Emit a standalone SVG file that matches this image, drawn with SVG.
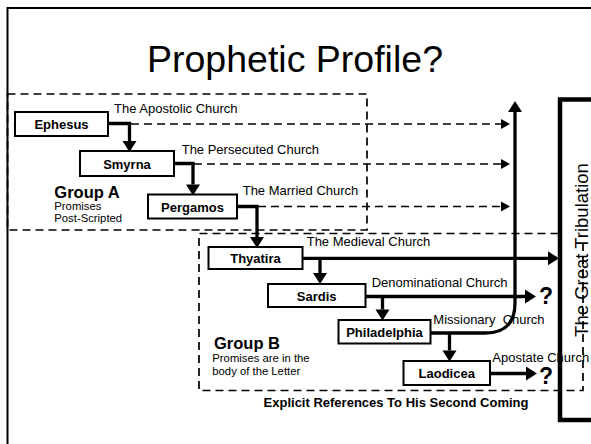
<svg xmlns="http://www.w3.org/2000/svg" width="591" height="444" viewBox="0 0 591 444">
<style>
  .frame{fill:none;stroke:#000;stroke-width:2}
  .grp{fill:none;stroke:#000;stroke-width:1.7;stroke-dasharray:8 5}
  .node rect{fill:#fff;stroke:#000;stroke-width:2}
  .node text{font-family:"Liberation Sans",Arial,sans-serif;font-weight:bold;font-size:13px;text-anchor:middle;fill:#000}
  .lbl{font-family:"Liberation Sans",Arial,sans-serif;font-size:13px;fill:#000}
  .small{font-family:"Liberation Sans",Arial,sans-serif;font-size:11.3px;fill:#000}
  .gtitle{font-family:"Liberation Sans",Arial,sans-serif;font-size:16.5px;font-weight:bold;fill:#000}
  .solid{fill:none;stroke:#000;stroke-width:3.3}
  .dash{fill:none;stroke:#000;stroke-width:1.7;stroke-dasharray:8 5}
  .q{font-family:"Liberation Sans",Arial,sans-serif;font-size:23px;font-weight:bold;fill:#000}
</style>
<defs>
  <marker id="big" markerUnits="userSpaceOnUse" markerWidth="11" markerHeight="14" refX="0" refY="7" orient="auto" overflow="visible">
    <path d="M0,0 L11,7 L0,14 z" fill="#000"/>
  </marker>
  <marker id="sm" markerUnits="userSpaceOnUse" markerWidth="9" markerHeight="10" refX="0" refY="5" orient="auto" overflow="visible">
    <path d="M0,0 L9,5 L0,10 z" fill="#000"/>
  </marker>
</defs>
<rect width="591" height="444" fill="#fff"/>
<path class="frame" d="M7.5,450 V8 H600"/>
<text x="295" y="72" font-family="'Liberation Sans',Arial,sans-serif" font-size="37.5" text-anchor="middle">Prophetic Profile?</text>

<g id="groupA">
  <rect class="grp" x="7.5" y="94" width="359.5" height="136"/>
  <text class="gtitle" x="54.3" y="198.3">Group A</text>
  <text class="small" x="54.3" y="210">Promises</text>
  <text class="small" x="54.3" y="221.7">Post-Scripted</text>
</g>
<g id="groupB">
  <path class="grp" d="M583,243 V390.5 H199 V233.5 H558"/>
  <text class="gtitle" x="214" y="349">Group B</text>
  <text class="small" x="212.3" y="361.7">Promises are in the</text>
  <text class="small" x="212.3" y="375">body of the Letter</text>
  <text x="396" y="406.5" font-family="'Liberation Sans',Arial,sans-serif" font-size="13" font-weight="bold" text-anchor="middle">Explicit References To His Second Coming</text>
</g>

<g id="tribulation">
  <rect x="560" y="99.5" width="60" height="320.5" fill="none" stroke="#000" stroke-width="4.5"/>
  <text transform="translate(588,250) rotate(-90)" font-family="'Liberation Sans',Arial,sans-serif" font-size="18.5" text-anchor="middle">The Great Tribulation</text>
</g>

<g id="connectors">
  <path class="dash" d="M131,124 H501" marker-end="url(#sm)"/>
  <path class="dash" d="M194,164 H501" marker-end="url(#sm)"/>
  <path class="dash" d="M258,206.5 H501" marker-end="url(#sm)"/>
  <path class="solid" d="M108,123.5 H129.5 V141" marker-end="url(#big)"/>
  <path class="solid" d="M174,163.5 H193 V184.5" marker-end="url(#big)"/>
  <path class="solid" d="M237,206.5 H257 V237" marker-end="url(#big)"/>
  <path class="solid" d="M302.5,258.3 H548" marker-end="url(#big)"/>
  <path class="solid" d="M320,258.3 V273" marker-end="url(#big)"/>
  <path class="solid" d="M365.5,296.5 H525" marker-end="url(#big)"/>
  <path class="solid" d="M382.5,296.5 V309.5" marker-end="url(#big)"/>
  <path class="solid" d="M430.5,333 H485 Q515,333 515,303 V112" marker-end="url(#big)"/>
  <path class="solid" d="M449.5,333 V350.5" marker-end="url(#big)"/>
  <path class="solid" d="M490,373.5 H526" marker-end="url(#big)"/>
  <text class="q" x="539" y="304.3">?</text>
  <text class="q" x="539" y="384.3">?</text>
</g>

<g id="labels">
  <text class="lbl" x="114" y="112.5">The Apostolic Church</text>
  <text class="lbl" x="181.7" y="154">The Persecuted Church</text>
  <text class="lbl" x="242.7" y="194.5">The Married Church</text>
  <text class="lbl" x="306.7" y="245.7">The Medieval Church</text>
  <text class="lbl" x="371.7" y="286.7">Denominational Church</text>
  <text class="lbl" x="433.3" y="324.3" xml:space="preserve">Missionary  Church</text>
  <text class="lbl" x="492.3" y="361.7">Apostate Church</text>
</g>

<g id="ephesus" class="node"><rect x="15" y="112" width="93" height="24"/><text x="61.5" y="128.5">Ephesus</text></g>
<g id="smyrna" class="node"><rect x="80" y="151" width="94" height="25"/><text x="127" y="168.5">Smyrna</text></g>
<g id="pergamos" class="node"><rect x="148" y="194.5" width="89" height="24"/><text x="192.5" y="211.5">Pergamos</text></g>
<g id="thyatira" class="node"><rect x="208.5" y="247" width="94" height="22"/><text x="255.5" y="262.5">Thyatira</text></g>
<g id="sardis" class="node"><rect x="268" y="284" width="97.5" height="23"/><text x="316.7" y="300.5">Sardis</text></g>
<g id="philadelphia" class="node"><rect x="338.5" y="320" width="92" height="23.5"/><text x="384.5" y="336.5">Philadelphia</text></g>
<g id="laodicea" class="node"><rect x="403.5" y="361" width="86.5" height="24"/><text x="446.7" y="377.5">Laodicea</text></g>
</svg>
